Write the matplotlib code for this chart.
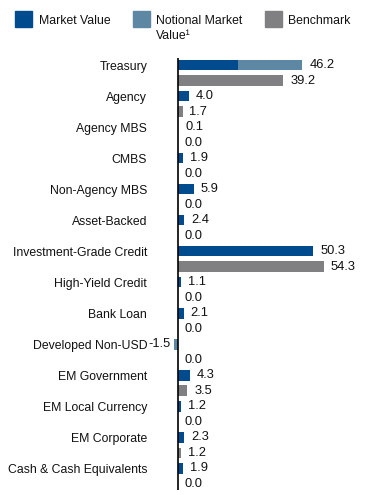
import matplotlib
matplotlib.use("Agg")
import matplotlib.pyplot as plt
from matplotlib import font_manager
from matplotlib.patches import Rectangle

categories = ["Treasury", "Agency", "Agency MBS", "CMBS", "Non-Agency MBS",
              "Asset-Backed", "Investment-Grade Credit", "High-Yield Credit",
              "Bank Loan", "Developed Non-USD", "EM Government",
              "EM Local Currency", "EM Corporate", "Cash & Cash Equivalents"]
market_value = [22.4, 4.0, 0.1, 1.9, 5.9, 2.4, 50.3, 1.1, 2.1, 0.0, 4.3, 1.2, 2.3, 1.9]
notional_value = [23.8, 0.0, 0.0, 0.0, 0.0, 0.0, 0.0, 0.0, 0.0, -1.5, 0.0, 0.0, 0.0, 0.0]
benchmark = [39.2, 1.7, 0.0, 0.0, 0.0, 0.0, 54.3, 0.0, 0.0, 0.0, 3.5, 0.0, 1.2, 0.0]
legend_labels = ["Market Value", "Notional Market\nValue¹", "Benchmark"]

names = {f.name for f in font_manager.fontManager.ttflist}
narrow = "Liberation Sans Narrow" in names
family = "Liberation Sans Narrow" if narrow else "Liberation Sans"
plt.rcParams["font.family"] = [family, "DejaVu Sans"]

c_mv = "#004B8D"
c_nv = "#5E87A3"
c_bm = "#808083"
txt = "#111111"

fig = plt.figure(figsize=(3.65, 4.95), dpi=100)
ax = fig.add_axes([150 / 365, 1 - 490 / 495, 205 / 365, 432 / 495])

n = len(categories)
ypos = list(range(n))
ybm = [y + 0.5 for y in ypos]
h = 0.34

ax.barh(ypos, market_value, height=h, color=c_mv)
nv_left = [m if v > 0 else 0 for m, v in zip(market_value, notional_value)]
ax.barh(ypos, notional_value, left=nv_left, height=h, color=c_nv)
ax.barh(ybm, benchmark, height=h, color=c_bm)

fs_cat = 10.5 if narrow else 8.8
fs_val = 10.5 if narrow else 9.3
for y, m, v in zip(ypos, market_value, notional_value):
    tot = m + v
    if tot < 0:
        ax.annotate(f"{tot:.1f}", (tot, y), xytext=(-2.5, 0), textcoords="offset points",
                    ha="right", va="center", fontsize=fs_val, color=txt)
    else:
        ax.annotate(f"{tot:.1f}", (tot, y), xytext=(5, 0), textcoords="offset points",
                    ha="left", va="center", fontsize=fs_val, color=txt)
for y, b in zip(ybm, benchmark):
    ax.annotate(f"{b:.1f}", (b, y), xytext=(5, 0), textcoords="offset points",
                ha="left", va="center", fontsize=fs_val, color=txt)

ax.set_xlim(-10.4, 65.8)
ax.set_ylim(13.7, -0.23)
ax.set_yticks(ypos)
ax.set_yticklabels(categories, fontsize=fs_cat, color=txt)
ax.tick_params(axis="y", length=0, pad=2)
ax.set_xticks([])
for s in ["top", "right", "bottom", "left"]:
    ax.spines[s].set_visible(False)
ax.axvline(0, color="black", lw=1.2)
ax.patch.set_visible(False)

# legend
W, H = 365, 495
colors = [c_mv, c_nv, c_bm]
sq_x = [15, 133, 265]
tx_x = [39, 156, 288]
for c, sx, tx, lab in zip(colors, sq_x, tx_x, legend_labels):
    fig.patches.append(Rectangle((sx / W, 1 - 27 / H), 17 / W, 16 / H,
                                 transform=fig.transFigure, color=c))
    fig.text(tx / W, 1 - 15 / H, lab, ha="left", va="top", fontsize=fs_cat,
             color=txt, linespacing=1.35)

fig.savefig("out.png", dpi=100)
